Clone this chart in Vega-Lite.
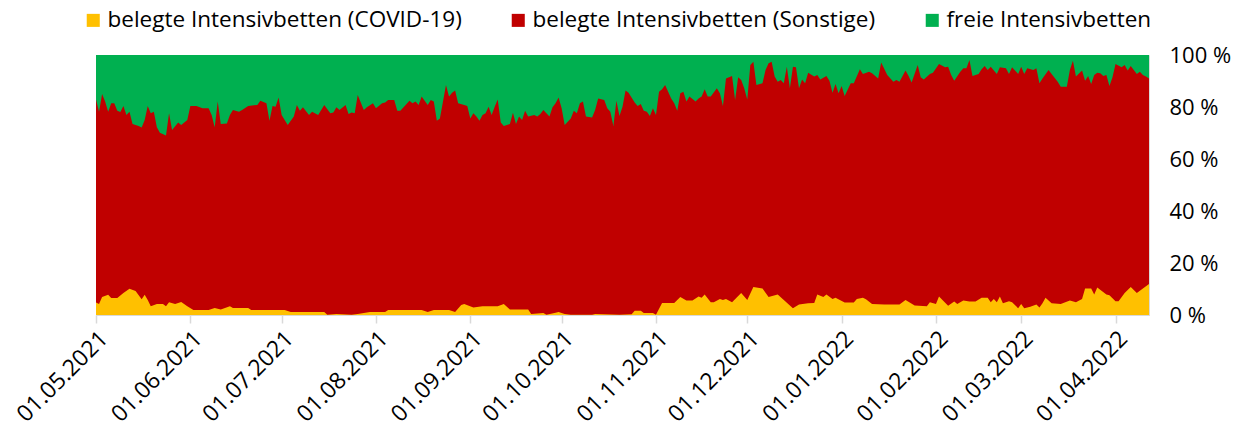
{
  "$schema": "https://vega.github.io/schema/vega-lite/v6.json",
  "width": 1053,
  "height": 260,
  "autosize": {"type": "none"},
  "padding": {"left": 96, "top": 55, "right": 95, "bottom": 117},
  "background": "white",
  "config": {
    "font": "Open Sans",
    "view": {"stroke": "#D9D9D9", "strokeWidth": 1}
  },
  "datasets": {
    "belegt": [
      {"t":"2021-05-01","v":82.9},{"t":"2021-05-02","v":78.2},{"t":"2021-05-03","v":85.0},{"t":"2021-05-04","v":82.1},{"t":"2021-05-05","v":78.2},{"t":"2021-05-06","v":81.4},{"t":"2021-05-07","v":81.4},{"t":"2021-05-08","v":78.6},{"t":"2021-05-09","v":78.1},{"t":"2021-05-10","v":80.4},{"t":"2021-05-11","v":76.9},{"t":"2021-05-12","v":78.2},{"t":"2021-05-13","v":73.5},{"t":"2021-05-15","v":72.7},{"t":"2021-05-16","v":72.1},{"t":"2021-05-17","v":75.0},{"t":"2021-05-18","v":80.4},{"t":"2021-05-19","v":77.6},{"t":"2021-05-20","v":78.2},{"t":"2021-05-21","v":72.2},{"t":"2021-05-22","v":70.1},{"t":"2021-05-24","v":69.0},{"t":"2021-05-25","v":77.6},{"t":"2021-05-26","v":71.2},{"t":"2021-05-28","v":74.0},{"t":"2021-05-29","v":73.1},{"t":"2021-05-31","v":75.0},
      {"t":"2021-06-01","v":80.4},{"t":"2021-06-03","v":80.4},{"t":"2021-06-05","v":79.5},{"t":"2021-06-07","v":79.5},{"t":"2021-06-08","v":76.9},{"t":"2021-06-09","v":72.2},{"t":"2021-06-10","v":82.1},{"t":"2021-06-11","v":73.5},{"t":"2021-06-13","v":73.7},{"t":"2021-06-14","v":76.9},{"t":"2021-06-15","v":78.8},{"t":"2021-06-17","v":78.2},{"t":"2021-06-18","v":78.8},{"t":"2021-06-20","v":80.4},{"t":"2021-06-23","v":80.8},{"t":"2021-06-24","v":82.4},{"t":"2021-06-26","v":81.4},{"t":"2021-06-27","v":74.7},{"t":"2021-06-28","v":80.4},{"t":"2021-06-29","v":80.1},{"t":"2021-06-30","v":83.7},
      {"t":"2021-07-01","v":76.9},{"t":"2021-07-03","v":73.1},{"t":"2021-07-05","v":76.3},{"t":"2021-07-06","v":80.8},{"t":"2021-07-07","v":78.6},{"t":"2021-07-08","v":79.9},{"t":"2021-07-10","v":76.9},{"t":"2021-07-11","v":78.2},{"t":"2021-07-13","v":76.9},{"t":"2021-07-15","v":80.8},{"t":"2021-07-17","v":77.6},{"t":"2021-07-18","v":77.9},{"t":"2021-07-19","v":79.9},{"t":"2021-07-20","v":78.8},{"t":"2021-07-22","v":80.8},{"t":"2021-07-23","v":77.3},{"t":"2021-07-24","v":77.9},{"t":"2021-07-25","v":77.6},{"t":"2021-07-26","v":84.6},{"t":"2021-07-28","v":78.8},{"t":"2021-07-29","v":79.9},{"t":"2021-07-31","v":81.4},
      {"t":"2021-08-01","v":79.5},{"t":"2021-08-03","v":81.4},{"t":"2021-08-04","v":81.7},{"t":"2021-08-05","v":82.7},{"t":"2021-08-07","v":82.7},{"t":"2021-08-08","v":78.6},{"t":"2021-08-09","v":78.6},{"t":"2021-08-12","v":82.4},{"t":"2021-08-13","v":81.4},{"t":"2021-08-14","v":82.1},{"t":"2021-08-15","v":80.8},{"t":"2021-08-16","v":84.0},{"t":"2021-08-18","v":80.8},{"t":"2021-08-19","v":82.7},{"t":"2021-08-20","v":82.1},{"t":"2021-08-21","v":74.7},{"t":"2021-08-22","v":75.6},{"t":"2021-08-24","v":88.5},{"t":"2021-08-25","v":84.0},{"t":"2021-08-26","v":85.5},{"t":"2021-08-27","v":86.3},{"t":"2021-08-28","v":81.4},{"t":"2021-08-30","v":80.8},{"t":"2021-08-31","v":80.4},
      {"t":"2021-09-01","v":75.6},{"t":"2021-09-02","v":77.6},{"t":"2021-09-03","v":76.3},{"t":"2021-09-04","v":74.7},{"t":"2021-09-05","v":76.9},{"t":"2021-09-06","v":77.6},{"t":"2021-09-07","v":80.1},{"t":"2021-09-08","v":76.9},{"t":"2021-09-09","v":80.1},{"t":"2021-09-10","v":82.9},{"t":"2021-09-11","v":74.0},{"t":"2021-09-12","v":72.7},{"t":"2021-09-14","v":73.5},{"t":"2021-09-15","v":77.8},{"t":"2021-09-16","v":73.5},{"t":"2021-09-17","v":76.3},{"t":"2021-09-18","v":75.0},{"t":"2021-09-19","v":78.6},{"t":"2021-09-20","v":76.3},{"t":"2021-09-22","v":76.9},{"t":"2021-09-23","v":76.3},{"t":"2021-09-24","v":77.3},{"t":"2021-09-25","v":78.8},{"t":"2021-09-27","v":76.3},{"t":"2021-09-28","v":79.9},{"t":"2021-09-29","v":81.4},{"t":"2021-09-30","v":83.7},
      {"t":"2021-10-01","v":79.5},{"t":"2021-10-02","v":73.1},{"t":"2021-10-04","v":75.6},{"t":"2021-10-05","v":78.6},{"t":"2021-10-06","v":77.6},{"t":"2021-10-07","v":81.4},{"t":"2021-10-08","v":82.1},{"t":"2021-10-09","v":76.3},{"t":"2021-10-11","v":76.0},{"t":"2021-10-12","v":78.8},{"t":"2021-10-13","v":83.3},{"t":"2021-10-15","v":82.7},{"t":"2021-10-16","v":79.5},{"t":"2021-10-17","v":78.2},{"t":"2021-10-18","v":72.7},{"t":"2021-10-19","v":82.4},{"t":"2021-10-20","v":76.5},{"t":"2021-10-21","v":80.1},{"t":"2021-10-22","v":86.3},{"t":"2021-10-23","v":85.5},{"t":"2021-10-25","v":81.7},{"t":"2021-10-26","v":80.4},{"t":"2021-10-27","v":81.2},{"t":"2021-10-28","v":78.6},{"t":"2021-10-29","v":78.2},{"t":"2021-10-30","v":76.5},{"t":"2021-10-31","v":79.5},
      {"t":"2021-11-01","v":76.9},{"t":"2021-11-02","v":85.9},{"t":"2021-11-03","v":86.8},{"t":"2021-11-04","v":88.5},{"t":"2021-11-06","v":83.3},{"t":"2021-11-07","v":81.4},{"t":"2021-11-08","v":78.6},{"t":"2021-11-09","v":85.3},{"t":"2021-11-10","v":85.9},{"t":"2021-11-11","v":82.1},{"t":"2021-11-12","v":84.0},{"t":"2021-11-14","v":82.1},{"t":"2021-11-15","v":83.3},{"t":"2021-11-16","v":84.0},{"t":"2021-11-17","v":86.8},{"t":"2021-11-18","v":84.0},{"t":"2021-11-19","v":84.0},{"t":"2021-11-21","v":87.2},{"t":"2021-11-22","v":85.3},{"t":"2021-11-23","v":80.4},{"t":"2021-11-24","v":91.0},{"t":"2021-11-26","v":91.9},{"t":"2021-11-27","v":82.7},{"t":"2021-11-28","v":91.4},{"t":"2021-11-29","v":90.4},{"t":"2021-11-30","v":87.2},
      {"t":"2021-12-01","v":82.9},{"t":"2021-12-02","v":96.2},{"t":"2021-12-03","v":97.4},{"t":"2021-12-04","v":88.5},{"t":"2021-12-06","v":89.1},{"t":"2021-12-07","v":94.2},{"t":"2021-12-08","v":96.8},{"t":"2021-12-09","v":97.4},{"t":"2021-12-10","v":91.7},{"t":"2021-12-11","v":89.7},{"t":"2021-12-12","v":90.4},{"t":"2021-12-13","v":89.1},{"t":"2021-12-14","v":95.5},{"t":"2021-12-15","v":87.2},{"t":"2021-12-16","v":95.5},{"t":"2021-12-17","v":95.3},{"t":"2021-12-18","v":87.2},{"t":"2021-12-19","v":90.6},{"t":"2021-12-20","v":89.1},{"t":"2021-12-21","v":93.2},{"t":"2021-12-23","v":91.7},{"t":"2021-12-24","v":92.3},{"t":"2021-12-25","v":90.6},{"t":"2021-12-27","v":91.9},{"t":"2021-12-28","v":90.1},{"t":"2021-12-29","v":85.5},{"t":"2021-12-30","v":88.8},{"t":"2021-12-31","v":85.3},
      {"t":"2022-01-01","v":88.1},{"t":"2022-01-02","v":84.2},{"t":"2022-01-04","v":89.1},{"t":"2022-01-05","v":89.1},{"t":"2022-01-07","v":94.5},{"t":"2022-01-08","v":92.7},{"t":"2022-01-10","v":93.6},{"t":"2022-01-11","v":93.0},{"t":"2022-01-13","v":91.0},{"t":"2022-01-14","v":97.1},{"t":"2022-01-16","v":92.3},{"t":"2022-01-18","v":89.7},{"t":"2022-01-19","v":90.4},{"t":"2022-01-20","v":89.7},{"t":"2022-01-22","v":94.0},{"t":"2022-01-23","v":91.9},{"t":"2022-01-24","v":89.4},{"t":"2022-01-26","v":96.2},{"t":"2022-01-27","v":91.4},{"t":"2022-01-28","v":90.6},{"t":"2022-01-30","v":92.7},{"t":"2022-01-31","v":93.2},
      {"t":"2022-02-02","v":96.5},{"t":"2022-02-04","v":95.3},{"t":"2022-02-05","v":95.5},{"t":"2022-02-06","v":92.3},{"t":"2022-02-07","v":90.1},{"t":"2022-02-09","v":93.6},{"t":"2022-02-10","v":94.9},{"t":"2022-02-11","v":94.9},{"t":"2022-02-12","v":98.1},{"t":"2022-02-13","v":91.9},{"t":"2022-02-15","v":92.7},{"t":"2022-02-16","v":94.5},{"t":"2022-02-17","v":95.8},{"t":"2022-02-18","v":94.2},{"t":"2022-02-19","v":95.5},{"t":"2022-02-21","v":92.7},{"t":"2022-02-22","v":95.3},{"t":"2022-02-24","v":94.9},{"t":"2022-02-25","v":92.7},{"t":"2022-02-26","v":95.3},{"t":"2022-02-28","v":92.7},
      {"t":"2022-03-01","v":95.5},{"t":"2022-03-02","v":92.7},{"t":"2022-03-03","v":94.9},{"t":"2022-03-05","v":94.2},{"t":"2022-03-06","v":94.9},{"t":"2022-03-07","v":89.1},{"t":"2022-03-08","v":91.0},{"t":"2022-03-10","v":94.2},{"t":"2022-03-11","v":92.7},{"t":"2022-03-13","v":89.7},{"t":"2022-03-14","v":87.8},{"t":"2022-03-16","v":87.8},{"t":"2022-03-17","v":94.2},{"t":"2022-03-18","v":97.8},{"t":"2022-03-19","v":91.7},{"t":"2022-03-21","v":94.0},{"t":"2022-03-22","v":90.1},{"t":"2022-03-23","v":91.9},{"t":"2022-03-24","v":88.8},{"t":"2022-03-25","v":92.3},{"t":"2022-03-26","v":93.2},{"t":"2022-03-27","v":93.0},{"t":"2022-03-28","v":91.9},{"t":"2022-03-29","v":92.3},{"t":"2022-03-30","v":88.1},{"t":"2022-03-31","v":91.4},
      {"t":"2022-04-01","v":96.5},{"t":"2022-04-03","v":95.3},{"t":"2022-04-04","v":96.2},{"t":"2022-04-05","v":94.0},{"t":"2022-04-06","v":95.8},{"t":"2022-04-08","v":92.7},{"t":"2022-04-09","v":93.6},{"t":"2022-04-10","v":92.3},{"t":"2022-04-11","v":91.7},{"t":"2022-04-12","v":91.0}
    ],
    "covid": [
      {"t":"2021-05-01","v":4.8},{"t":"2021-05-02","v":4.2},{"t":"2021-05-03","v":6.9},{"t":"2021-05-05","v":7.8},{"t":"2021-05-06","v":6.5},{"t":"2021-05-08","v":6.5},{"t":"2021-05-10","v":8.5},{"t":"2021-05-12","v":10.1},{"t":"2021-05-14","v":9.2},{"t":"2021-05-16","v":6.1},{"t":"2021-05-17","v":7.8},{"t":"2021-05-18","v":5.8},{"t":"2021-05-19","v":3.4},{"t":"2021-05-21","v":4.2},{"t":"2021-05-23","v":4.2},{"t":"2021-05-24","v":3.4},{"t":"2021-05-25","v":4.9},{"t":"2021-05-27","v":4.2},{"t":"2021-05-29","v":5.0},{"t":"2021-05-31","v":3.4},
      {"t":"2021-06-02","v":1.9},{"t":"2021-06-07","v":1.9},{"t":"2021-06-09","v":2.7},{"t":"2021-06-11","v":2.1},{"t":"2021-06-14","v":3.4},{"t":"2021-06-15","v":2.7},{"t":"2021-06-20","v":2.7},{"t":"2021-06-21","v":1.9},
      {"t":"2021-07-02","v":1.9},{"t":"2021-07-04","v":1.2},{"t":"2021-07-15","v":1.2},{"t":"2021-07-16","v":0.1},{"t":"2021-07-19","v":0.4},{"t":"2021-07-24","v":0.1},{"t":"2021-07-26","v":0.4},{"t":"2021-07-30","v":1.2},
      {"t":"2021-08-04","v":1.2},{"t":"2021-08-05","v":1.9},{"t":"2021-08-16","v":1.9},{"t":"2021-08-18","v":1.2},{"t":"2021-08-20","v":1.9},{"t":"2021-08-25","v":1.9},{"t":"2021-08-27","v":1.2},{"t":"2021-08-29","v":3.8},{"t":"2021-08-30","v":4.2},
      {"t":"2021-09-02","v":2.9},{"t":"2021-09-05","v":3.4},{"t":"2021-09-10","v":3.4},{"t":"2021-09-12","v":4.2},{"t":"2021-09-14","v":2.1},{"t":"2021-09-20","v":2.1},{"t":"2021-09-21","v":0.4},{"t":"2021-09-25","v":0.8},{"t":"2021-09-26","v":0.1},{"t":"2021-09-29","v":0.9},{"t":"2021-09-30","v":1.2},
      {"t":"2021-10-02","v":0.4},{"t":"2021-10-04","v":0.1},{"t":"2021-10-11","v":0.1},{"t":"2021-10-12","v":0.4},{"t":"2021-10-20","v":0.1},{"t":"2021-10-24","v":0.3},{"t":"2021-10-25","v":1.6},{"t":"2021-10-27","v":1.6},{"t":"2021-10-28","v":0.8},{"t":"2021-10-31","v":0.8},
      {"t":"2021-11-01","v":0.1},{"t":"2021-11-03","v":4.6},{"t":"2021-11-07","v":4.6},{"t":"2021-11-09","v":6.9},{"t":"2021-11-11","v":5.6},{"t":"2021-11-13","v":5.6},{"t":"2021-11-15","v":7.1},{"t":"2021-11-16","v":6.6},{"t":"2021-11-17","v":7.9},{"t":"2021-11-19","v":4.9},{"t":"2021-11-20","v":4.9},{"t":"2021-11-22","v":6.2},{"t":"2021-11-23","v":5.8},{"t":"2021-11-24","v":6.2},{"t":"2021-11-26","v":4.9},{"t":"2021-11-29","v":8.5},
      {"t":"2021-12-01","v":5.8},{"t":"2021-12-03","v":10.8},{"t":"2021-12-06","v":10.2},{"t":"2021-12-08","v":6.9},{"t":"2021-12-11","v":7.9},{"t":"2021-12-13","v":5.8},{"t":"2021-12-16","v":2.6},{"t":"2021-12-18","v":4.0},{"t":"2021-12-21","v":4.5},{"t":"2021-12-23","v":4.6},{"t":"2021-12-24","v":7.9},{"t":"2021-12-26","v":6.9},{"t":"2021-12-27","v":7.9},{"t":"2021-12-29","v":6.2},{"t":"2021-12-30","v":6.6},
      {"t":"2022-01-02","v":4.8},{"t":"2022-01-05","v":4.8},{"t":"2022-01-06","v":6.2},{"t":"2022-01-08","v":6.6},{"t":"2022-01-09","v":6.1},{"t":"2022-01-11","v":4.2},{"t":"2022-01-15","v":4.0},{"t":"2022-01-20","v":4.0},{"t":"2022-01-22","v":5.8},{"t":"2022-01-25","v":3.7},{"t":"2022-01-29","v":3.4},{"t":"2022-01-30","v":4.9},
      {"t":"2022-02-01","v":4.2},{"t":"2022-02-02","v":7.1},{"t":"2022-02-05","v":3.6},{"t":"2022-02-07","v":5.2},{"t":"2022-02-08","v":4.2},{"t":"2022-02-10","v":5.6},{"t":"2022-02-12","v":5.2},{"t":"2022-02-14","v":5.2},{"t":"2022-02-16","v":6.6},{"t":"2022-02-18","v":6.6},{"t":"2022-02-19","v":4.9},{"t":"2022-02-20","v":6.2},{"t":"2022-02-21","v":4.9},{"t":"2022-02-22","v":7.1},{"t":"2022-02-23","v":4.5},{"t":"2022-02-25","v":5.3},{"t":"2022-02-26","v":4.9},{"t":"2022-02-28","v":2.6},
      {"t":"2022-03-01","v":4.2},{"t":"2022-03-02","v":2.6},{"t":"2022-03-04","v":3.2},{"t":"2022-03-06","v":4.0},{"t":"2022-03-07","v":2.9},{"t":"2022-03-08","v":4.5},{"t":"2022-03-09","v":6.6},{"t":"2022-03-11","v":4.5},{"t":"2022-03-14","v":4.2},{"t":"2022-03-17","v":5.6},{"t":"2022-03-19","v":4.9},{"t":"2022-03-21","v":6.2},{"t":"2022-03-22","v":10.2},{"t":"2022-03-24","v":10.2},{"t":"2022-03-25","v":7.9},{"t":"2022-03-26","v":10.6},{"t":"2022-03-29","v":7.9},{"t":"2022-03-30","v":7.6},
      {"t":"2022-04-01","v":5.3},{"t":"2022-04-02","v":5.3},{"t":"2022-04-04","v":8.5},{"t":"2022-04-06","v":10.8},{"t":"2022-04-08","v":8.5},{"t":"2022-04-10","v":10.2},{"t":"2022-04-12","v":11.9}
    ]
  },
  "encoding": {
    "x": {
      "field": "t", "type": "temporal", "title": null,
      "scale": {"type": "utc"},
      "axis": {
        "labelExpr": "utcFormat(datum.value, '%d.%m.%Y')",
        "tickCount": {"interval": "month", "step": 1},
        "labelAngle": -45, "labelFontSize": 23, "labelColor": "#000000",
        "labelPadding": 4, "labelFlush": false, "labelOverlap": false,
        "grid": false, "domainColor": "#D9D9D9", "domainWidth": 1,
        "tickColor": "#D9D9D9", "tickSize": 8, "tickWidth": 1.5
      }
    }
  },
  "layer": [
    {
      "data": {"name": "belegt"},
      "mark": {"type": "area"},
      "encoding": {
        "y": {
          "datum": 100, "type": "quantitative", "title": null,
          "scale": {"domain": [0, 100], "nice": false},
          "axis": {
            "orient": "right", "values": [0, 20, 40, 60, 80, 100],
            "labelExpr": "datum.value + ' %'",
            "labelFontSize": 22, "labelColor": "#000000", "labelPadding": 20,
            "grid": false, "ticks": false, "domain": false
          }
        },
        "color": {
          "datum": "freie Intensivbetten",
          "scale": {
            "domain": ["belegte Intensivbetten (COVID-19)", "belegte Intensivbetten (Sonstige)", "freie Intensivbetten"],
            "range": ["#FFC000", "#C00000", "#00B050"]
          },
          "legend": {
            "title": null, "orient": "none", "direction": "horizontal",
            "legendX": -14, "legendY": -46,
            "symbolType": "square", "symbolSize": 170, "symbolStrokeWidth": 0,
            "labelFontSize": 22.5, "labelColor": "#000000", "labelLimit": 0,
            "labelOffset": 3, "columnPadding": 45
          }
        }
      }
    },
    {
      "data": {"name": "belegt"},
      "mark": {"type": "area"},
      "encoding": {
        "y": {"field": "v", "type": "quantitative", "title": null},
        "color": {"datum": "belegte Intensivbetten (Sonstige)"}
      }
    },
    {
      "data": {"name": "covid"},
      "mark": {"type": "area"},
      "encoding": {
        "y": {"field": "v", "type": "quantitative", "title": null},
        "color": {"datum": "belegte Intensivbetten (COVID-19)"}
      }
    }
  ]
}
